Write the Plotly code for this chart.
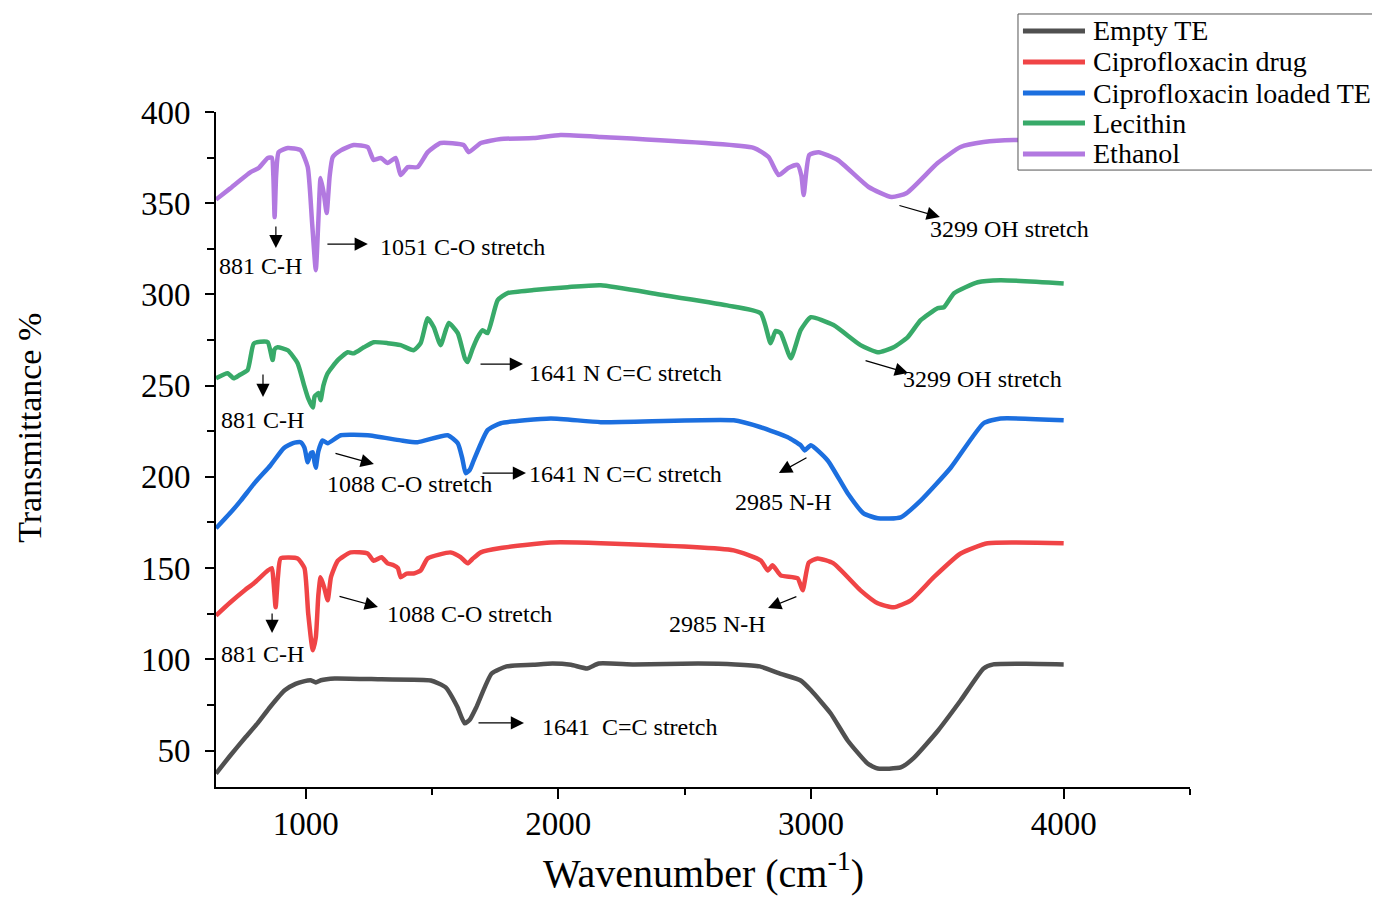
import plotly.graph_objects as go

# ---------------- data ----------------
empty_x = [645, 700, 760, 810, 860, 917, 960, 992, 1020, 1040, 1060, 1115, 1300, 1495, 1554, 1600, 1629, 1650, 1675,
           1736, 1795, 1900, 1977, 2050, 2114, 2160, 2300, 2553, 2700, 2797, 2880, 2959, 3000, 3078, 3145, 3224,
           3264, 3355, 3407, 3503, 3592, 3683, 3722, 3850, 4000]
empty_y = [37.4, 47, 57, 65, 74, 83, 86.5, 87.9, 88.5, 87.3, 88.5, 89.5, 89, 88.4, 84.6, 74, 64.9, 67, 73.6,
           92.2, 96.1, 97, 97.7, 97, 95, 97.7, 97.2, 97.7, 97.2, 96.1, 92, 88.4, 83, 70.3, 55.5, 42.9,
           40.1, 40.7, 46, 61, 77.4, 95, 97.2, 97.5, 97.2]

cipro_x = [645, 700, 760, 794, 850, 866, 873, 881, 890, 901, 968, 995, 1010, 1028, 1040, 1050, 1059, 1072, 1087,
           1100, 1127, 1178, 1245, 1269, 1300, 1324, 1348, 1365, 1376, 1400, 1427, 1455, 1483, 1574, 1613, 1641,
           1660, 1693, 1772, 1970, 2168, 2694, 2801, 2829, 2848, 2880, 2947, 2967, 2991, 3026, 3089, 3196, 3264,
           3327, 3395, 3486, 3592, 3699, 4000]
cipro_y = [124, 131, 138, 141.6, 148.7, 150, 142, 128.5, 145, 155.3, 155.3, 150, 125, 104.9, 112, 135, 145, 140, 132.3,
           145, 154, 158.6, 158, 154, 156, 152.6, 151.6, 150, 145, 147, 147, 148.7, 155.3, 158.6, 156, 152.6,
           155, 158.6, 161, 164, 163.6, 159.7, 154.2, 148.7, 151.5, 146, 144.4, 137.8, 153, 155.3, 152.6, 137.8, 130.7,
           128.5, 132.3, 145, 158, 163.6, 163.6]

loaded_x = [645, 700, 743, 800, 861, 913, 950, 980, 995, 1008, 1020, 1028, 1035, 1040, 1050, 1067, 1087, 1139, 1245,
            1376, 1443, 1562, 1602, 1620, 1633, 1650, 1665, 1720, 1772, 1970, 2168, 2694, 2801, 2908, 2959, 2975,
            2999, 3066, 3145, 3208, 3264, 3355, 3434, 3553, 3683, 3750, 4000]
loaded_y = [171.8, 180, 187, 197, 206.4, 215.7, 218.5, 219, 216, 208, 213, 213.5, 208, 205, 214, 220, 218.4, 222.8, 222.8,
            220, 219, 222.8, 218.4, 210, 202, 204, 209, 225.6, 229.4, 232, 230, 231, 227.2, 221.7, 217.3, 214.5,
            217.3, 209, 191, 180, 177.3, 177.8, 187, 205, 229.4, 232, 231]

lec_x = [645, 691, 715, 740, 770, 794, 820, 850, 869, 877, 889, 929, 968, 992, 1010, 1028, 1035, 1040, 1050, 1059,
         1070, 1087, 1127, 1166, 1190, 1230, 1269, 1324, 1376, 1427, 1455, 1483, 1507, 1534, 1566, 1602, 1630, 1641,
         1660, 1681, 1700, 1720, 1760, 1799, 1902, 2037, 2168, 2400, 2668, 2801, 2840, 2860, 2880, 2920, 2959, 2999,
         3089, 3196, 3264, 3327, 3383, 3434, 3502, 3526, 3566, 3660, 3750, 4000]
lec_y = [254, 256.8, 254, 256, 258.5, 273, 274, 273.8, 264, 270, 271, 269.4, 262.3, 251, 243, 238, 244, 244.8, 246, 242,
         250, 256.8, 264, 268.3, 267.7, 271, 273.8, 273.3, 272.2, 269.4, 273.3, 287, 282, 272.2, 284.3, 278.8, 265, 262.9,
         270, 276.6, 280.4, 278.8, 296.9, 300.7, 302.4, 304, 305, 300, 294, 289.7, 273.3, 280, 278.8, 265, 280.4, 287.5,
         283.2, 272.2, 268.3, 271, 276.6, 285.9, 292.5, 293, 300.7, 306.7, 307.8, 306]

eth_x = [645, 700, 782, 814, 850, 866, 872, 877, 883, 893, 929, 980, 1008, 1025, 1040, 1050, 1059, 1072, 1083, 1095,
         1107, 1139, 1190, 1245, 1269, 1297, 1324, 1356, 1376, 1404, 1443, 1483, 1534, 1625, 1645, 1693, 1772, 1902,
         2009, 2168, 2773, 2832, 2872, 2910, 2947, 2962, 2971, 2993, 3030, 3106, 3228, 3319, 3379, 3501, 3592, 3683,
         3802, 4000]
eth_y = [352, 358, 367, 369.3, 374.8, 375, 365, 342.4, 365, 378, 380.3, 379, 369.8, 340, 313.3, 340, 363.8, 355, 344.6, 365,
         375.3, 379, 381.9, 380.8, 373.7, 374.8, 372, 374.8, 365.4, 369.8, 369.8, 378, 383, 381.9, 378, 383, 385.2, 385.7,
         387.4, 386.3, 380.3, 375.3, 365.4, 369.3, 371, 365, 354.5, 376.4, 378, 373.7, 358.9, 353.4, 355.6, 372, 380.8, 383.5,
         384.6, 384]

series_names = ["Empty TE", "Ciprofloxacin drug", "Ciprofloxacin loaded TE", "Lecithin", "Ethanol"]
series_colors = ["#505050", "#F04446", "#1C6FDF", "#38AA69", "#B279E0"]

x_tickvals = [1000, 2000, 3000, 4000]
y_tickvals = [50, 100, 150, 200, 250, 300, 350, 400]

FONT = "Liberation Serif"

fig = go.Figure()
for name, xs, ys, col in zip(series_names,
                             [empty_x, cipro_x, loaded_x, lec_x, eth_x],
                             [empty_y, cipro_y, loaded_y, lec_y, eth_y],
                             series_colors):
    fig.add_trace(go.Scatter(x=xs, y=ys, mode="lines", name=name, showlegend=False,
                             line=dict(color=col, width=4.5, shape="spline", smoothing=0.5)))

# ---------------- annotations ----------------
labels = [
    ("881 C-H", 823, 315.6, "center"),
    ("1051 C-O stretch", 1286, 326, "left"),
    ("3299 OH stretch", 3463, 335.8, "left"),
    ("881 C-H", 831, 231.2, "center"),
    ("1641 N C=C stretch", 1876, 256.9, "left"),
    ("3299 OH stretch", 3356, 253.6, "left"),
    ("1088 C-O stretch", 1076, 196.1, "left"),
    ("1641 N C=C stretch", 1876, 201.6, "left"),
    ("2985 N-H", 2893, 186.2, "center"),
    ("881 C-H", 831, 102.9, "center"),
    ("1088 C-O stretch", 1314, 124.8, "left"),
    ("2985 N-H", 2628, 119.3, "center"),
    ("1641  C=C stretch", 1927, 62.9, "left"),
]
arrows = [
    (882, 338.0, 882, 325.4),
    (1080, 327.6, 1246, 327.6),
    (3344, 349.0, 3510, 342.4),
    (831, 256.9, 831, 243.8),
    (1686, 261.8, 1860, 261.8),
    (3210, 264.0, 3384, 256.9),
    (1112, 213.1, 1270, 207.0),
    (1694, 202.1, 1872, 202.1),
    (2988, 210.9, 2873, 202.1),
    (867, 125.9, 867, 114.4),
    (1128, 134.7, 1286, 128.7),
    (2948, 134.7, 2830, 128.1),
    (1678, 65.1, 1864, 65.1),
]

for t, x, y, xa in labels:
    fig.add_annotation(x=x, y=y, text=t, showarrow=False, xanchor=xa, yanchor="middle",
                       font=dict(family=FONT, size=24, color="black"))
for tx, ty, hx, hy in arrows:
    fig.add_annotation(x=hx, y=hy, ax=tx, ay=ty, axref="x", ayref="y", xref="x", yref="y",
                       text="", showarrow=True, arrowhead=2, arrowsize=2.2, arrowwidth=1.2,
                       arrowcolor="black", standoff=0, startstandoff=0)

# axis titles
fig.add_annotation(x=-0.191, y=0.532, xref="paper", yref="paper", text="Transmittance %",
                   textangle=-90, showarrow=False, xanchor="center", yanchor="middle",
                   font=dict(family=FONT, size=34, color="black"))
fig.add_annotation(x=0.5, y=-0.124, xref="paper", yref="paper", text="Wavenumber (cm<sup>-1</sup>)",
                   showarrow=False, xanchor="center", yanchor="middle",
                   font=dict(family=FONT, size=40, color="black"))

# ---------------- legend (drawn in paper coordinates) ----------------
leg_rows_y = [1.120, 1.0741, 1.0281, 0.9837, 0.9378]
fig.add_shape(type="rect", xref="paper", yref="paper", x0=0.8234, x1=1.2012, y0=0.914, y1=1.1452,
              line=dict(color="#555555", width=1), fillcolor="white", layer="above")
for name, col, ly in zip(series_names, series_colors, leg_rows_y):
    fig.add_shape(type="line", xref="paper", yref="paper", x0=0.8285, x1=0.8922, y0=ly, y1=ly,
                  line=dict(color=col, width=5), layer="above")
    fig.add_annotation(x=0.8985, y=ly, xref="paper", yref="paper", text=name, showarrow=False,
                       xanchor="left", yanchor="middle", font=dict(family=FONT, size=28, color="black"))

fig.update_layout(
    width=1380, height=897,
    margin=dict(l=208, r=198, t=104, b=118),
    paper_bgcolor="white", plot_bgcolor="white",
    font=dict(family=FONT, color="black"),
    showlegend=False,
)
fig.update_xaxes(range=[645, 4500], showgrid=False, zeroline=False,
                 showline=True, linecolor="black", linewidth=2,
                 ticks="outside", ticklen=10, tickwidth=2, tickcolor="black",
                 tickvals=x_tickvals, tickfont=dict(family=FONT, size=33, color="black"),
                 ticklabelstandoff=-4,
                 minor=dict(dtick=500, tick0=0, ticks="outside", ticklen=6, tickwidth=2, tickcolor="black"))
fig.update_yaxes(range=[30, 400], showgrid=False, zeroline=False,
                 showline=True, linecolor="black", linewidth=2,
                 ticks="outside", ticklen=9, tickwidth=2, tickcolor="black",
                 tickvals=y_tickvals, tickfont=dict(family=FONT, size=33, color="black"),
                 ticklabelstandoff=8,
                 minor=dict(dtick=25, tick0=0, ticks="outside", ticklen=7, tickwidth=2, tickcolor="black"))

fig.write_html("out.html")
